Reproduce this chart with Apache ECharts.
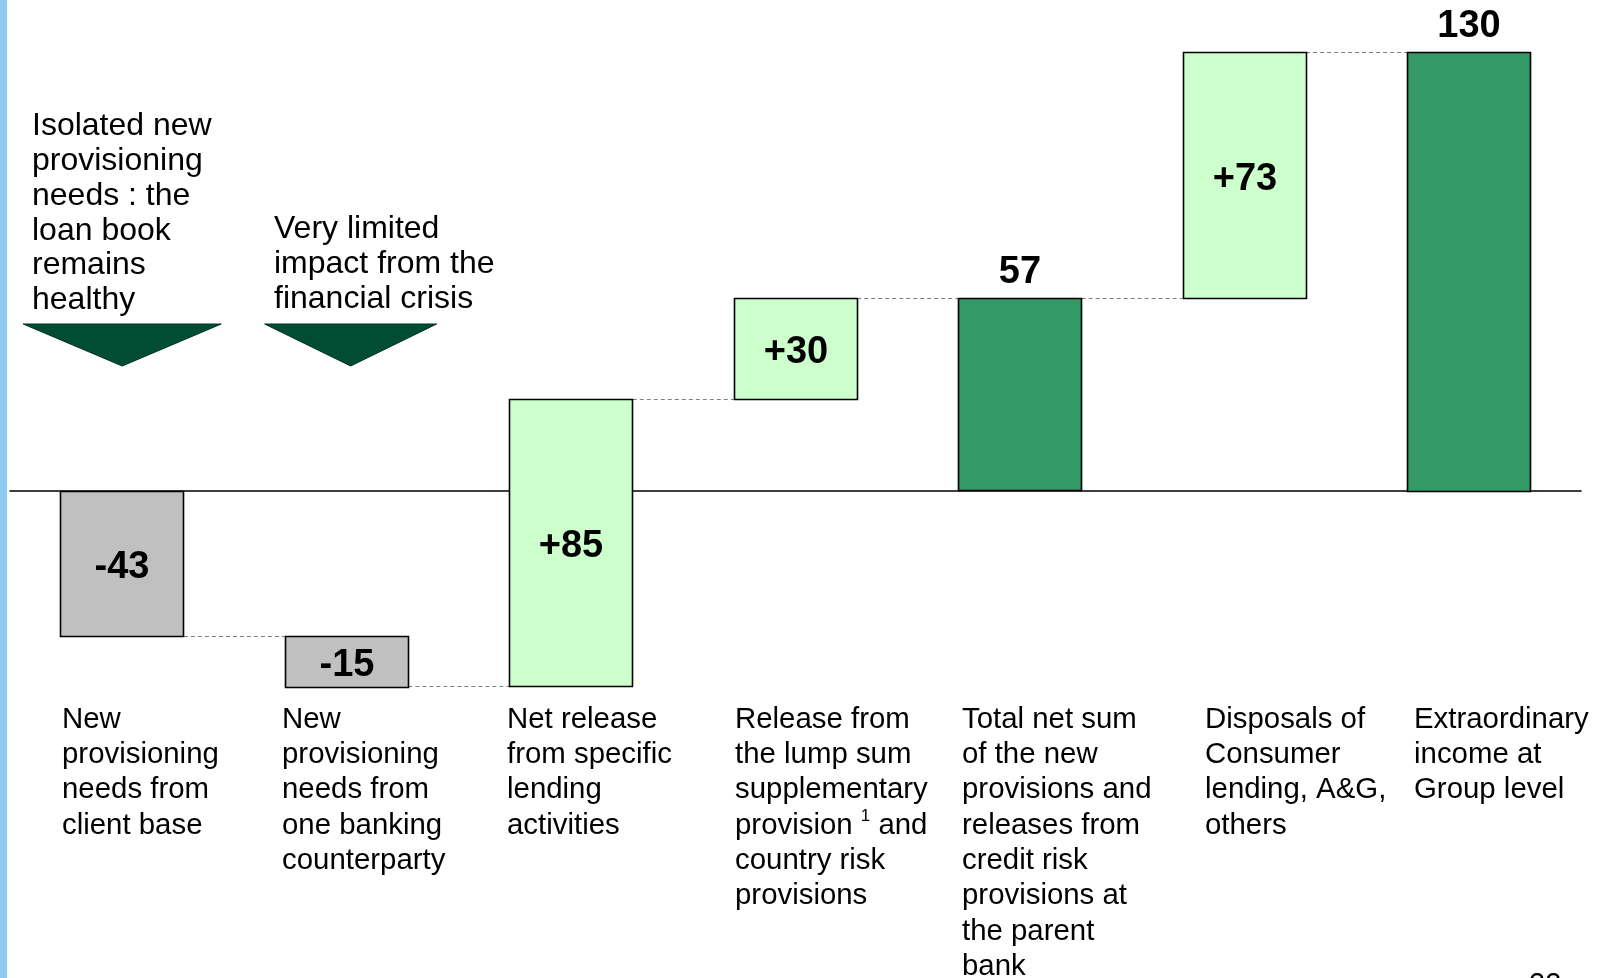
<!DOCTYPE html>
<html>
<head>
<meta charset="utf-8">
<script src="https://cdn.jsdelivr.net/npm/echarts@6/dist/echarts.min.js"></script>
<style>
  html, body { margin: 0; padding: 0; background: #ffffff; }
  #chart { width: 1607px; height: 978px; }
</style>
</head>
<body>
<div id="chart"></div>
<script>
// Waterfall: credit-risk provisions, from client base to Group level
const categories = [
  'New\nprovisioning\nneeds from\nclient base',
  'New\nprovisioning\nneeds from\none banking\ncounterparty',
  'Net release\nfrom specific\nlending\nactivities',
  'Release from\nthe lump sum\nsupplementary\nprovision {sup|1} and\ncountry risk\nprovisions',
  'Total net sum\nof the new\nprovisions and\nreleases from\ncredit risk\nprovisions at\nthe parent\nbank',
  'Disposals of\nConsumer\nlending, A&G,\nothers',
  'Extraordinary\nincome at\nGroup level'
];
const values = [-43, -15, 85, 30, 57, 73, 130];
const kinds = ['delta', 'delta', 'delta', 'delta', 'total', 'delta', 'total'];

const notes = [
  'Isolated new\nprovisioning\nneeds : the\nloan book\nremains\nhealthy',
  'Very limited\nimpact from the\nfinancial crisis'
];
const pageNumber = '22';

// start / end of each floating bar
const ranges = [];
let running = 0;
values.forEach((v, i) => {
  if (kinds[i] === 'total') {
    ranges.push([i, 0, v]);
    running = v;
  } else {
    ranges.push([i, running, running + v]);
    running += v;
  }
});
// level at which each bar hands over to the next one
const links = ranges.slice(0, -1).map(r => [r[0], r[2]]);

const FONT = '"Liberation Sans", Arial, sans-serif';
const BAR_RATIO = 0.55;
const COLORS = { down: '#c0c0c0', up: '#ccffcc', total: '#339966' };

function labelText(i) {
  const v = values[i];
  if (kinds[i] === 'total') return String(v);
  return (v > 0 ? '+' : '') + v;
}

function renderBar(params, api) {
  const i = api.value(0);
  const lo = api.value(1);
  const hi = api.value(2);
  const w = api.size([1, 0])[0] * BAR_RATIO;
  const p1 = api.coord([i, lo]);
  const p2 = api.coord([i, hi]);
  const kind = kinds[i];
  const fill = kind === 'total' ? COLORS.total : (values[i] < 0 ? COLORS.down : COLORS.up);
  return {
    type: 'rect',
    shape: {
      x: Math.round(p1[0] - w / 2) + 0.5,
      y: Math.round(Math.min(p1[1], p2[1])) + 0.5,
      width: Math.round(w),
      height: Math.round(Math.abs(p1[1] - p2[1]))
    },
    style: { fill: fill, stroke: '#000000', lineWidth: 1.6 },
    textContent: {
      style: {
        text: labelText(i),
        font: 'bold 38px ' + FONT,
        fill: '#000000'
      }
    },
    textConfig: kind === 'total'
      ? { position: 'top', distance: 6 }
      : { position: 'inside', offset: [0, 4] }
  };
}

function renderLink(params, api) {
  const i = api.value(0);
  const level = api.value(1);
  const w = api.size([1, 0])[0] * BAR_RATIO;
  const a = api.coord([i, level]);
  const b = api.coord([i + 1, level]);
  const y = Math.round(a[1]) + 0.5;
  return {
    type: 'line',
    shape: { x1: a[0] + w / 2, y1: y, x2: b[0] - w / 2, y2: y },
    style: { stroke: '#808080', lineWidth: 1, lineDash: [4, 3] }
  };
}

const chart = echarts.init(document.getElementById('chart'), null, { renderer: 'canvas' });

chart.setOption({
  animation: false,
  backgroundColor: '#ffffff',
  grid: { left: 10, right: 26, top: 18, height: 675 },
  xAxis: {
    type: 'category',
    data: categories,
    axisLine: { onZero: true, lineStyle: { color: '#000000', width: 1.6 } },
    axisTick: { show: false },
    axisLabel: { show: false },
    splitLine: { show: false }
  },
  yAxis: {
    type: 'value',
    min: -60,
    max: 140,
    show: false,
    splitLine: { show: false }
  },
  series: [
    {
      type: 'custom',
      name: 'links',
      renderItem: renderLink,
      data: links,
      encode: { x: 0, y: 1 },
      z: 1
    },
    {
      type: 'custom',
      name: 'bars',
      renderItem: renderBar,
      data: ranges,
      encode: { x: 0, y: [1, 2] },
      z: 2
    }
  ]
});

// text and decorations placed from the axis positions
const band = chart.convertToPixel({ xAxisIndex: 0 }, 1) - chart.convertToPixel({ xAxisIndex: 0 }, 0);
const barW = band * BAR_RATIO;
const nudges = [2, -3, -2, 1, 4, 22, 7];

const graphics = [
  { type: 'rect', shape: { x: 0, y: 0, width: 7, height: 978 }, style: { fill: '#8fcbef' }, silent: true }
];

categories.forEach((txt, i) => {
  const cx = chart.convertToPixel({ xAxisIndex: 0 }, i);
  graphics.push({
    type: 'text',
    x: Math.round(cx - barW / 2 + nudges[i]),
    y: 702,
    style: {
      text: txt,
      font: '29.4px ' + FONT,
      lineHeight: 35.3,
      fill: '#000000',
      align: 'left',
      verticalAlign: 'top',
      rich: {
        sup: { font: '17px ' + FONT, verticalAlign: 'top', padding: [0, 0, 12, 0], lineHeight: 35.3 }
      }
    },
    silent: true
  });
});

// note arrows over the first two columns
const arrowSpecs = [
  { idx: 0, dx: 0, half: 99 },
  { idx: 1, dx: 4, half: 86 }
];
const arrowTop = 324, arrowTip = 366;
arrowSpecs.forEach(a => {
  const cx = chart.convertToPixel({ xAxisIndex: 0 }, a.idx) + a.dx;
  graphics.push({
    type: 'polygon',
    shape: { points: [[cx - a.half, arrowTop], [cx + a.half, arrowTop], [cx, arrowTip]] },
    style: { fill: '#004d33', stroke: '#00301f', lineWidth: 1 },
    silent: true
  });
});

graphics.push({
  type: 'text', x: 32, y: 109,
  style: { text: notes[0], font: '32px ' + FONT, lineHeight: 34.8, fill: '#000000', align: 'left', verticalAlign: 'top' },
  silent: true
});
graphics.push({
  type: 'text', x: 274, y: 212,
  style: { text: notes[1], font: '32px ' + FONT, lineHeight: 34.8, fill: '#000000', align: 'left', verticalAlign: 'top' },
  silent: true
});
graphics.push({
  type: 'text', x: 1529, y: 970,
  style: { text: pageNumber, font: '29px ' + FONT, fill: '#000000', align: 'left', verticalAlign: 'top' },
  silent: true
});

chart.setOption({ graphic: graphics });
</script>
</body>
</html>
